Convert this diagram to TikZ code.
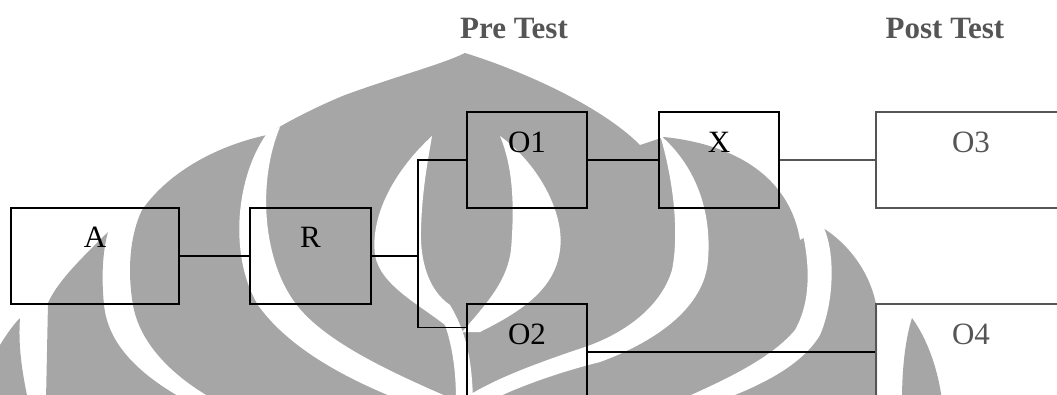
\documentclass[tikz,border=0pt]{standalone}
\usepackage{fontspec}
\setmainfont{Liberation Serif}
\usetikzlibrary{calc}
\definecolor{logogrey}{RGB}{166,166,166}
\definecolor{inkgrey}{RGB}{85,85,85}
\begin{document}
\begin{tikzpicture}[x=1pt,y=-1pt,
  box/.style={draw, line width=1.5pt, inner sep=0pt, minimum height=96pt},
  lab/.style={anchor=base, inner sep=0pt, font=\fontsize{31}{37}\selectfont},
  head/.style={anchor=base, inner sep=0pt, text=inkgrey, font=\fontsize{31}{37}\selectfont\bfseries},
  wire/.style={line width=1.5pt},
]
\useasboundingbox (0,0) rectangle (1057,394);
\clip (0,0) rectangle (1057,394);

% --- background emblem ---
% small left leaves
\fill[logogrey] (0,345) .. controls (8,332) and (14,324) .. (20,318)
  .. controls (18,345) and (22,372) .. (28,400) -- (0,400) -- cycle;
\fill[logogrey] (108,232) .. controls (85,255) and (58,280) .. (48,303)
  -- (46,400) -- (185,400) .. controls (140,375) and (108,345) .. (104,305)
  .. controls (101,275) and (103,250) .. (108,232) -- cycle;
% main flame silhouette
\fill[logogrey] (215,400) .. controls (175,378) and (140,345) .. (133,305)
  .. controls (127,270) and (130,235) .. (142,210)
  .. controls (170,170) and (220,145) .. (267,135)
  .. controls (280,125) and (320,105) .. (345,95)
  .. controls (400,75) and (440,65) .. (465,53)
  .. controls (520,70) and (600,105) .. (640,145)
  -- (664,137) .. controls (740,145) and (790,180) .. (800,240)
  -- (823,228) .. controls (850,245) and (872,275) .. (877,310)
  -- (877,400) -- cycle;
% small leaf on the right
\fill[logogrey] (912,318) .. controls (905,340) and (902,370) .. (902,400)
  -- (942,400) .. controls (938,370) and (928,340) .. (912,318) -- cycle;
% white crescents inside the flame
\fill[white] (268,132) .. controls (236,175) and (228,255) .. (258,305)
  .. controls (290,350) and (350,380) .. (400,400) -- (455,400)
  .. controls (390,372) and (320,340) .. (293,300)
  .. controls (262,255) and (258,180) .. (280,127) -- cycle;
\fill[white] (432,136) .. controls (395,170) and (370,215) .. (375,255)
  .. controls (380,285) and (420,305) .. (445,325)
  .. controls (452,345) and (456,370) .. (456,400) -- (473,400)
  .. controls (472,365) and (468,335) .. (450,305)
  .. controls (428,290) and (420,260) .. (421,230)
  .. controls (422,190) and (428,160) .. (432,136) -- cycle;
\fill[white] (500,136) .. controls (540,165) and (565,215) .. (560,250)
  .. controls (555,290) and (520,312) .. (480,332) -- (462,332)
  .. controls (490,300) and (507,280) .. (511,250)
  .. controls (515,200) and (512,165) .. (500,136) -- cycle;
\fill[white] (660,135) .. controls (672,175) and (680,230) .. (672,270)
  .. controls (660,310) and (620,335) .. (585,347)
  .. controls (540,362) and (490,380) .. (462,400) -- (492,400)
  .. controls (520,386) and (560,372) .. (600,362)
  .. controls (660,340) and (705,305) .. (708,260)
  .. controls (712,210) and (695,165) .. (660,135) -- cycle;
\fill[white] (800,222) .. controls (810,260) and (812,300) .. (795,330)
  .. controls (770,360) and (720,382) .. (680,400) -- (722,400)
  .. controls (762,385) and (802,365) .. (820,335)
  .. controls (835,300) and (835,250) .. (823,226) -- cycle;

% --- headings ---
\node[head] (pre) at (514,38) {Pre Test};
\node[head] (post) at (945,38) {Post Test};

% --- boxes ---
\node[box, minimum width=168pt] (a) at (95,256) {};
\node[box, minimum width=121pt] (r) at (310.5,256) {};
\node[box, minimum width=120pt] (o1) at (527,160) {};
\node[box, minimum width=120pt] (o2) at (527,352) {};
\node[box, minimum width=120pt] (x) at (719,160) {};
\node[box, minimum width=190pt, draw=inkgrey] (o3) at (971,160) {};
\node[box, minimum width=190pt, draw=inkgrey] (o4) at (971,352) {};

% --- labels ---
\node[lab] (ta) at ($(a.north)+(0,40)$) {A};
\node[lab] (tr) at ($(r.north)+(0,40)$) {R};
\node[lab] (to1) at ($(o1.north)+(0,41)$) {O1};
\node[lab] (to2) at ($(o2.north)+(0,41)$) {O2};
\node[lab] (tx) at ($(x.north)+(0,41)$) {X};
\node[lab, text=inkgrey] (to3) at ($(o3.north)+(0,41)$) {O3};
\node[lab, text=inkgrey] (to4) at ($(o4.north)+(0,41)$) {O4};

% --- connectors ---
\coordinate (j) at (418,256);
\coordinate (o2in) at ($(o2.north west)+(0,24)$);
\draw[wire] (a.east) -- (r.west);
\draw[wire] (r.east) -- (j);
\draw[wire] (o1.west) -| (j) |- (o2in);
\draw[wire] (o1.east) -- (x.west);
\draw[wire, draw=inkgrey] (x.east) -- (o3.west);
\draw[wire] (o2.east) -- (o2.east -| o4.west);
\end{tikzpicture}
\end{document}
